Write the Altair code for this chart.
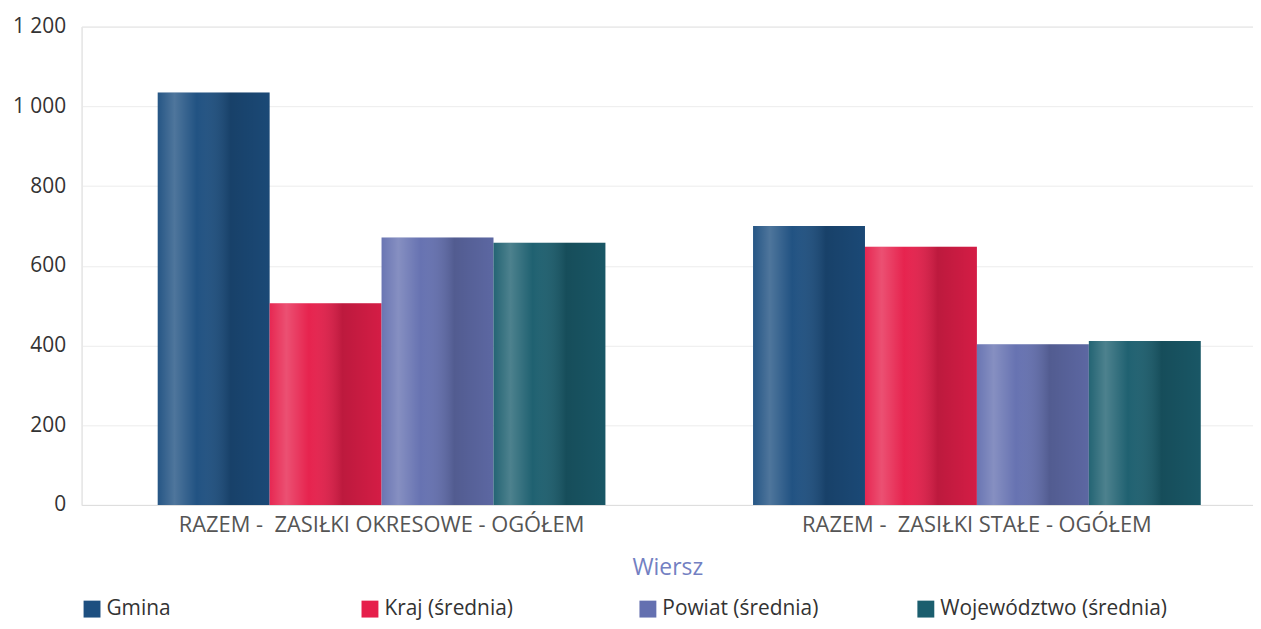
import altair as alt
import pandas as pd

categories = ["RAZEM -\u00a0 ZASIŁKI OKRESOWE - OGÓŁEM", "RAZEM -\u00a0 ZASIŁKI STAŁE - OGÓŁEM"]
series = ["Gmina", "Kraj (średnia)", "Powiat (średnia)", "Województwo (średnia)"]
gmina = [1035, 700]
kraj = [506, 648]
powiat = [671, 403]
wojewodztwo = [658, 411]
colors = ["#1d4f80", "#e61f4b", "#6470b0", "#1b5e6e"]
y_ticks = [0, 200, 400, 600, 800, 1000, 1200]

rows = []
for s, vals in zip(series, [gmina, kraj, powiat, wojewodztwo]):
    for c, v in zip(categories, vals):
        rows.append({"Wiersz": c, "Seria": s, "Wartosc": v})
df = pd.DataFrame(rows)

FONT = "Open Sans"

x_enc = alt.X(
    "Wiersz:N",
    sort=categories,
    scale=alt.Scale(paddingInner=0.248, paddingOuter=0.1078, align=0.593),
    axis=alt.Axis(
        title="Wiersz",
        labelAngle=0,
        labelFontSize=22,
        labelColor="#555555",
        labelPadding=10,
        ticks=False,
        domainColor="#dddddd",
        titleFontSize=23,
        titleFontWeight="normal",
        titleColor="#7380c2",
        titlePadding=21,
        labelLimit=700,
    ),
)
xoff_enc = alt.XOffset(
    "Seria:N", sort=series, scale=alt.Scale(domain=series, paddingInner=0, paddingOuter=0)
)
y_enc = alt.Y(
    "Wartosc:Q",
    scale=alt.Scale(domain=[0, 1200], nice=False),
    axis=alt.Axis(
        title=None,
        values=y_ticks,
        labelExpr="replace(format(datum.value, ','), ',', ' ')",
        labelFontSize=21,
        labelColor="#333333",
        labelPadding=16,
        ticks=False,
        domainColor="#e6e6e6",
        gridColor="#ececec",
    ),
)

base = alt.Chart(df)

bars = base.mark_bar(strokeWidth=0).encode(
    x=x_enc,
    xOffset=xoff_enc,
    y=y_enc,
    color=alt.Color(
        "Seria:N",
        sort=series,
        scale=alt.Scale(domain=series, range=colors),
        legend=alt.Legend(
            title=None,
            orient="none",
            legendX=0,
            legendY=575,
            direction="horizontal",
            columns=4,
            gridAlign="all",
            symbolType="square",
            symbolSize=289,
            symbolStrokeWidth=0,
            labelFontSize=21,
            labelColor="#333333",
            labelOffset=4,
            columnPadding=25.5,
            labelLimit=400,
        ),
    ),
)

shine = alt.Gradient(
    gradient="linear",
    x1=0, x2=1, y1=0, y2=0,
    stops=[
        alt.GradientStop(color="rgba(255,255,255,0.04)", offset=0),
        alt.GradientStop(color="rgba(255,255,255,0.22)", offset=0.15),
        alt.GradientStop(color="rgba(255,255,255,0.02)", offset=0.35),
        alt.GradientStop(color="rgba(0,0,0,0.18)", offset=0.65),
        alt.GradientStop(color="rgba(0,0,0,0.08)", offset=1),
    ],
)

overlay = base.mark_bar(fill=shine, strokeWidth=0).encode(
    x=x_enc,
    xOffset=xoff_enc,
    y=y_enc,
)

chart = (
    alt.layer(bars, overlay)
    .properties(
        width=1178,
        height=481,
        padding={"left": 74, "top": 17, "right": 0, "bottom": 115},
        autosize="none",
    )
    .configure_view(stroke=None)
    .configure(font=FONT)
)

chart.save("out.html", embed_options={"renderer": "svg", "actions": False})
